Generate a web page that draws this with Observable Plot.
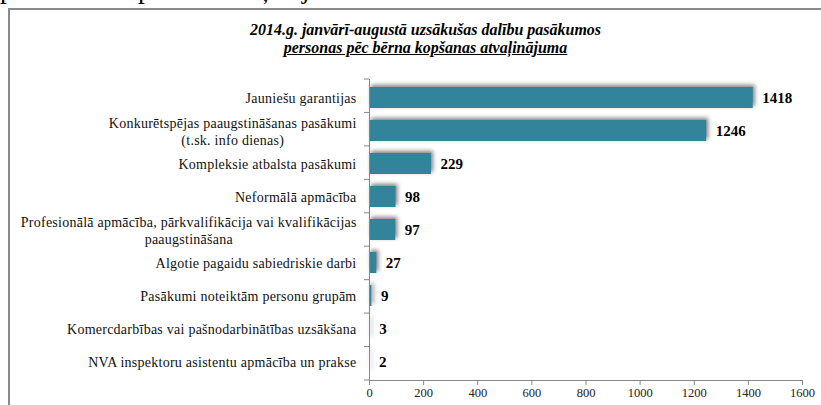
<!DOCTYPE html>
<html>
<head>
<meta charset="utf-8">
<script src="https://cdn.jsdelivr.net/npm/d3@7"></script>
<script src="https://cdn.jsdelivr.net/npm/@observablehq/plot@0.6"></script>
<style>
  html, body { margin: 0; padding: 0; background: #fff; overflow: hidden; }
  #page { position: relative; width: 821px; height: 405px; overflow: hidden; }
  #lead { position: absolute; left: 0; top: -26px; font-family: "Liberation Serif", "Times New Roman", serif; font-size: 27px; color: #000; white-space: nowrap; }
  #box { position: absolute; left: 8px; top: 8px; width: 830px; height: 420px; border-top: 2px solid #8a8a8a; border-left: 2px solid #8a8a8a; box-sizing: border-box; }
  #title { position: absolute; left: 0; width: 821px; box-sizing: border-box; padding-left: 30px; top: 21px; text-align: center; font-family: "Liberation Serif", "Times New Roman", serif; font-weight: bold; font-style: italic; font-size: 16px; line-height: 18px; color: #000; }
  #title .l { display: block; }
  #title .u { text-decoration: underline; }
  #chart { position: absolute; left: 0; top: 60px; }
</style>
</head>
<body>
<div id="page">
  <div id="lead">pēc bērna kopšanas atvaļinājuma.</div>
  <div id="box"></div>
  <div id="title"><span class="l">2014.g. janvārī-augustā uzsākušas dalību pasākumos</span><span class="l"><span class="u">personas pēc bērna kopšanas atvaļinājuma</span></span></div>
  <div id="chart"></div>
</div>
<script>
const categories = [
  "Jauniešu garantijas",
  "Konkurētspējas paaugstināšanas pasākumi\n(t.sk. info dienas)",
  "Kompleksie atbalsta pasākumi",
  "Neformālā apmācība",
  "Profesionālā apmācība, pārkvalifikācija vai kvalifikācijas\npaaugstināšana",
  "Algotie pagaidu sabiedriskie darbi",
  "Pasākumi noteiktām personu grupām",
  "Komercdarbības vai pašnodarbinātības uzsākšana",
  "NVA inspektoru asistentu apmācība un prakse"
];
const values = [1418, 1246, 229, 98, 97, 27, 9, 3, 2];
const xTicks = [0, 200, 400, 600, 800, 1000, 1200, 1400, 1600];

const data = categories.map((c, i) => ({label: c, value: values[i]}));

const axisColor = "#868686";
const serif = "'Liberation Serif', 'Times New Roman', serif";

function findDims(args) {
  for (const a of args) if (a && typeof a === "object" && "marginTop" in a && "height" in a) return a;
  return null;
}

// tick marks at the band boundaries of the category axis
function bandTicks(...args) {
  const dims = findDims(args);
  const n = categories.length;
  const y0 = dims.marginTop, y1 = dims.height - dims.marginBottom;
  const x0 = dims.marginLeft;
  const step = (y1 - y0) / n;
  const g = d3.create("svg:g").attr("stroke", axisColor).attr("stroke-width", 1);
  g.selectAll("line").data(d3.range(n + 1)).join("line")
    .attr("x1", x0 - 5).attr("x2", x0)
    .attr("y1", k => y0 + k * step).attr("y2", k => y0 + k * step);
  return g.node();
}

const plot = Plot.plot({
  width: 821,
  height: 345,
  marginLeft: 369,
  marginRight: 19,
  marginTop: 19,
  marginBottom: 25,
  style: {"font-family": serif, "background": "transparent", "overflow": "visible"},
  x: {domain: [0, 1600]},
  y: {domain: categories, paddingInner: 0.37, paddingOuter: 0.185},
  marks: [
    Plot.barX(data, {
      x: "value", y: "label", fill: "#31849b",
      render: (i, s, v, d, c, next) => { const g = next(i, s, v, d, c); g.setAttribute("filter", "url(#barShadow)"); return g; }
    }),
    Plot.ruleX([0], {stroke: axisColor}),
    Plot.axisX({ticks: xTicks, tickSize: 5, tickPadding: 3, fontSize: 12.5, fontFamily: serif, stroke: axisColor, color: "#222", label: null, tickFormat: d => String(d)}),
    Plot.frame({anchor: "bottom", stroke: axisColor}),
    Plot.axisY({tickSize: 0, tickPadding: 13, fontSize: 14, fontFamily: serif, lineHeight: 1.2, label: null, color: "#111", textOverflow: null}),
    bandTicks,
    Plot.text(data, {x: "value", y: "label", text: d => String(d.value), textAnchor: "start", dx: 9, fontWeight: "bold", fontSize: 15, fontFamily: serif, fill: "#000"})
  ]
});

document.getElementById("chart").appendChild(plot);

// shadow filter for the bars
const defs = d3.select(plot).insert("defs", ":first-child");
const f = defs.append("filter").attr("id", "barShadow").attr("x", "-20%").attr("y", "-60%").attr("width", "140%").attr("height", "220%");
f.append("feDropShadow").attr("dx", 2).attr("dy", -2).attr("stdDeviation", 2).attr("flood-color", "#555").attr("flood-opacity", 0.75);

// slight letter spacing of the category labels, then center multi-line labels as a block
d3.select(plot).selectAll("g[aria-label='y-axis tick label'] text").each(function() {
  this.setAttribute("letter-spacing", "0.25");
  const tspans = this.querySelectorAll("tspan");
  if (tspans.length > 1) {
    const bb = this.getBBox();
    const cx = bb.x + bb.width / 2;
    this.setAttribute("text-anchor", "middle");
    tspans.forEach(t => { if (t.hasAttribute("x")) t.setAttribute("x", cx); });
    this.setAttribute("x", cx);
  }
});
</script>
</body>
</html>
